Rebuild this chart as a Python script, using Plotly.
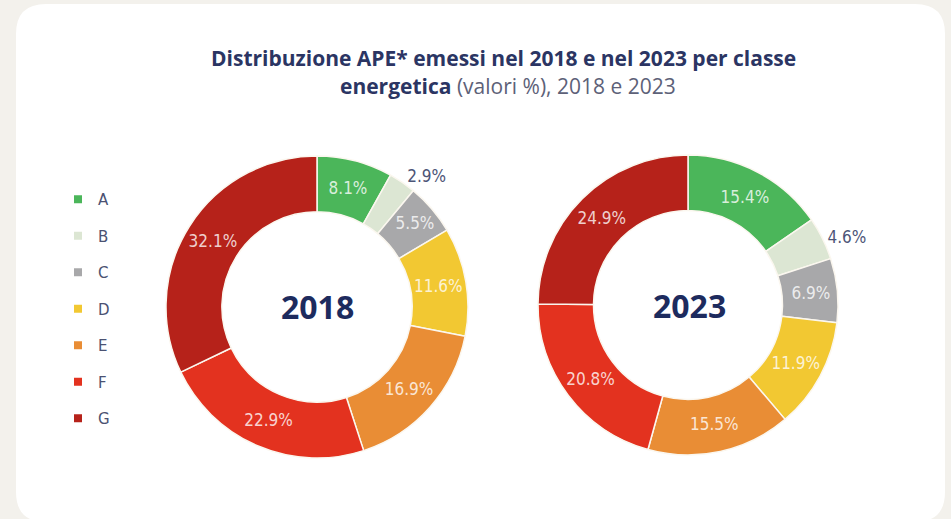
import plotly.graph_objects as go

# Energy classes and APE shares (%) per year
classes = ["A", "B", "C", "D", "E", "F", "G"]
share_2018 = [8.1, 2.9, 5.5, 11.6, 16.9, 22.9, 32.1]
share_2023 = [15.4, 4.6, 6.9, 11.9, 15.5, 20.8, 24.9]
years = ["2018", "2023"]

class_colors = ["#4bb65a", "#dce6d3", "#a8a8aa", "#f2c832", "#e98d35", "#e3321f", "#b6221a"]

W, H = 951, 519


def px_x(v):
    return v / W


def px_y(v):
    return 1 - v / H


inside_color = "rgba(255,255,255,0.8)"
outside_color = "#4d5577"
label_font = "DejaVu Sans Condensed, DejaVu Sans"


def donut(values, dom_x, dom_y, outside_idx):
    positions = ["outside" if i in outside_idx else "inside" for i in range(len(values))]
    colors = [outside_color if i in outside_idx else inside_color for i in range(len(values))]
    return go.Pie(
        labels=classes,
        values=values,
        sort=False,
        direction="clockwise",
        rotation=0,
        hole=0.63,
        marker=dict(colors=class_colors, line=dict(color="#fbf7ef", width=1.5)),
        texttemplate="%{value:.1f}%",
        textposition=positions,
        textfont=dict(family=label_font, size=17, color=colors),
        insidetextorientation="horizontal",
        showlegend=False,
        hoverinfo="label+value",
        domain=dict(x=dom_x, y=dom_y),
    )


fig = go.Figure()
fig.add_trace(donut(share_2018, [px_x(164), px_x(470)], [px_y(458), px_y(156)], {1}))
fig.add_trace(donut(share_2023, [px_x(535), px_x(841)], [px_y(455), px_y(155)], {1}))

# Legend entries, one group per class so the gap can be tuned
for name, col in zip(classes, class_colors):
    fig.add_trace(go.Scatter(
        x=[None], y=[None], mode="markers", name=name,
        legendgroup=name,
        marker=dict(symbol="square", size=8, color=col),
        hoverinfo="skip",
    ))

# White rounded card on the beige page
r_x, r_y = px_x(30), 30 / H
x0, x1 = px_x(16), px_x(945)
y0, y1 = px_y(522), px_y(4)
card = (
    f"M {x0 + r_x} {y1} L {x1 - r_x} {y1} Q {x1} {y1} {x1} {y1 - r_y} "
    f"L {x1} {y0 + r_y} Q {x1} {y0} {x1 - r_x} {y0} "
    f"L {x0 + r_x} {y0} Q {x0} {y0} {x0} {y0 + r_y} "
    f"L {x0} {y1 - r_y} Q {x0} {y1} {x0 + r_x} {y1} Z"
)

annotations = [
    dict(
        x=px_x(503), y=px_y(58), xref="paper", yref="paper",
        text="<b>Distribuzione APE* emessi nel 2018 e nel 2023 per classe</b>",
        showarrow=False, font=dict(family="Open Sans", size=21, color="#2b3563"),
        xanchor="center", yanchor="middle",
    ),
    dict(
        x=px_x(508), y=px_y(86), xref="paper", yref="paper",
        text="<b>energetica</b> <span style='color:#5d6178'>(valori %), 2018 e 2023</span>",
        showarrow=False, font=dict(family="Open Sans", size=21, color="#2b3563"),
        xanchor="center", yanchor="middle",
    ),
]
for yr, cx, cy in zip(years, [317, 689], [307, 305]):
    annotations.append(dict(
        x=px_x(cx), y=px_y(cy), xref="paper", yref="paper", text=f"<b>{yr}</b>",
        showarrow=False, font=dict(family="Open Sans", size=32, color="#1d2b5e"),
        xanchor="center", yanchor="middle",
    ))

fig.update_layout(
    width=W, height=H,
    margin=dict(l=0, r=0, t=0, b=0),
    paper_bgcolor="#f3f1ec",
    plot_bgcolor="rgba(0,0,0,0)",
    xaxis=dict(visible=False),
    yaxis=dict(visible=False),
    shapes=[dict(type="path", path=card, xref="paper", yref="paper",
                 fillcolor="#ffffff", line=dict(width=0), layer="below")],
    annotations=annotations,
    legend=dict(
        x=px_x(58), y=px_y(183), xanchor="left", yanchor="top",
        font=dict(family="DejaVu Sans", size=15, color="#4b5272"),
        tracegroupgap=14, bgcolor="rgba(0,0,0,0)", itemclick=False,
    ),
    uniformtext=dict(minsize=17, mode="show"),
    showlegend=True,
)

fig.write_html("out.html")
